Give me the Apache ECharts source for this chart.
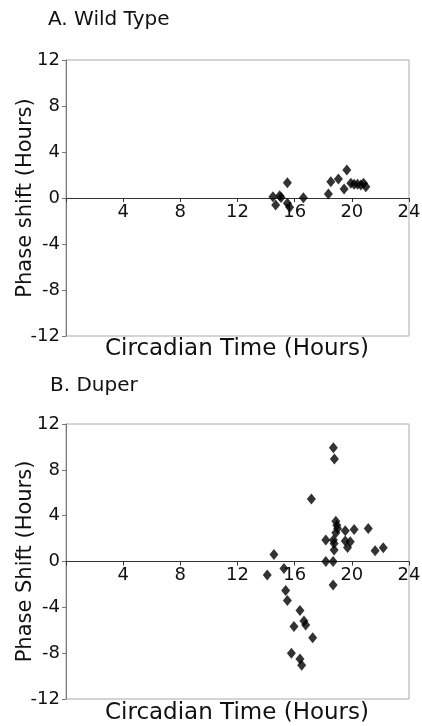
<!DOCTYPE html>
<html lang="en">
<head>
<meta charset="UTF-8">
<title>Phase response</title>
<script src="https://cdn.jsdelivr.net/npm/echarts@6/dist/echarts.min.js"></script>
<style>
  html, body { margin: 0; padding: 0; background: #fff; }
  #main { width: 422px; height: 726px; }
</style>
</head>
<body>
<div id="main"></div>
<script>
// circadian time (h) , phase shift (h)
var wildType = [
  [14.48, 0.1], [14.67, -0.6], [14.95, 0.2], [15.05, 0.05], [15.49, 1.33],
  [15.49, -0.46], [15.65, -0.8], [16.61, 0.03], [18.36, 0.35], [18.53, 1.42],
  [19.06, 1.65], [19.46, 0.78], [19.65, 2.43], [19.93, 1.28], [20.16, 1.19],
  [20.4, 1.19], [20.63, 1.13], [20.82, 1.28], [20.98, 0.98]
];
var duper = [
  [14.08, -1.17], [14.55, 0.62], [15.25, -0.6], [15.37, -2.54], [15.49, -3.4],
  [16.37, -4.28], [16.65, -5.2], [16.77, -5.55], [15.95, -5.67], [17.26, -6.65],
  [15.77, -8.0], [16.37, -8.5], [16.49, -9.06], [17.17, 5.46], [18.71, 9.93],
  [18.78, 8.94], [18.88, 3.52], [18.95, 3.17], [19.0, 2.89], [18.88, 2.5],
  [18.18, 1.87], [18.71, 1.87], [18.76, 1.58], [18.76, 1.0], [19.54, 2.68],
  [20.16, 2.8], [19.54, 1.78], [19.89, 1.72], [19.7, 1.23], [21.15, 2.89],
  [21.63, 0.94], [22.2, 1.2], [18.18, 0.0], [18.69, 0.0], [18.69, -2.04]
];
var panelTitles = ['A. Wild Type', 'B. Duper'];
var yNames = ['Phase shift (Hours)', 'Phase Shift (Hours)'];
var xName = 'Circadian Time (Hours)';

var FONT = 'DejaVu Sans';
var chart = echarts.init(document.getElementById('main'));

var grids = [
  { left: 66, top: 60, width: 343, height: 276 },
  { left: 66, top: 424, width: 343, height: 275 }
];

// x axis drawn through y = 0 (middle of the -12..12 range)
function xAxisFor(idx) {
  return {
    type: 'value', gridIndex: idx, min: 0, max: 24, interval: 4,
    position: 'bottom', offset: -grids[idx].height / 2,
    axisLine: { onZero: false, lineStyle: { color: '#333', width: 1 } },
    axisTick: { show: true, inside: false, length: 4, lineStyle: { color: '#333' } },
    axisLabel: {
      fontFamily: FONT, fontSize: 18, color: '#111', margin: 5,
      formatter: function (v) { return v === 0 ? '' : String(v); }
    },
    splitLine: { show: false }
  };
}
function yAxisFor(idx) {
  return {
    type: 'value', gridIndex: idx, min: -12, max: 12, interval: 4,
    name: yNames[idx], nameLocation: 'middle', nameGap: 30, nameRotate: 90,
    nameMoveOverlap: false,
    nameTextStyle: { fontFamily: FONT, fontSize: 21, color: '#111' },
    axisLine: { show: true, onZero: false, lineStyle: { color: '#777', width: 1 } },
    axisTick: { show: true, inside: false, length: 4, lineStyle: { color: '#777' } },
    axisLabel: { fontFamily: FONT, fontSize: 18, color: '#111', margin: 6 },
    splitLine: { show: false }
  };
}

var titleStyle = { fontFamily: FONT, fontSize: 20, fontWeight: 'normal', color: '#111' };

var option = {
  animation: false,
  title: [
    { text: panelTitles[0], left: 43, top: 5, textStyle: titleStyle },
    { text: panelTitles[1], left: 45, top: 371, textStyle: titleStyle }
  ],
  grid: grids.map(function (g) {
    return Object.assign({
      show: true, borderColor: '#aaa', borderWidth: 1, backgroundColor: 'transparent',
      containLabel: false, outerBoundsMode: 'none'
    }, g);
  }),
  xAxis: [xAxisFor(0), xAxisFor(1)],
  yAxis: [yAxisFor(0), yAxisFor(1)],
  graphic: [
    { type: 'text', x: 237, y: 349, style: { text: xName, fontFamily: FONT, fontSize: 23, fill: '#111', align: 'center', verticalAlign: 'middle' } },
    { type: 'text', x: 237, y: 713, style: { text: xName, fontFamily: FONT, fontSize: 23, fill: '#111', align: 'center', verticalAlign: 'middle' } }
  ],
  series: [
    { type: 'scatter', xAxisIndex: 0, yAxisIndex: 0, data: wildType, symbol: 'diamond', symbolSize: [9, 11], itemStyle: { color: '#000' } },
    { type: 'scatter', xAxisIndex: 1, yAxisIndex: 1, data: duper, symbol: 'diamond', symbolSize: [9, 11], itemStyle: { color: '#000' } }
  ]
};
chart.setOption(option);
</script>
</body>
</html>
